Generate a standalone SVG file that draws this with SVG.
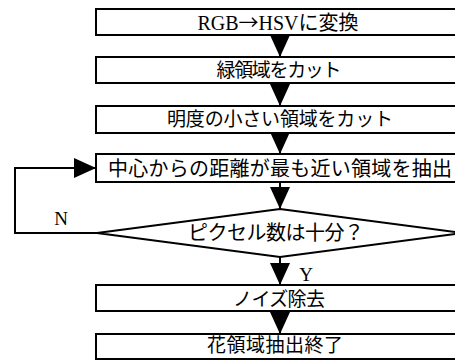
<svg xmlns="http://www.w3.org/2000/svg" width="455" height="361" viewBox="0 0 455 361">
<style>
.box{fill:#fff;stroke:#000;stroke-width:2}
.lbl{font-family:"Noto Sans CJK JP",sans-serif;font-size:19px;fill:#000;text-anchor:middle}
.ser{font-family:"Liberation Serif",serif}
.yn{font-family:"Liberation Serif",serif;font-size:19px;fill:#000;text-anchor:middle}
.con{fill:none;stroke:#000;stroke-width:2}
</style>
<defs>
<marker id="ah" markerUnits="userSpaceOnUse" viewBox="0 0 22 20" markerWidth="22" markerHeight="20" refX="22" refY="10" orient="auto">
<path d="M0,0 L22,10 L0,20 z" fill="#000"/>
</marker>
</defs>
<g id="connectors">
<line class="con" x1="280" y1="35" x2="280" y2="57" marker-end="url(#ah)"/>
<line class="con" x1="280" y1="83" x2="280" y2="106" marker-end="url(#ah)"/>
<line class="con" x1="280" y1="133" x2="280" y2="154" marker-end="url(#ah)"/>
<line class="con" x1="280" y1="182" x2="280" y2="209" marker-end="url(#ah)"/>
<line class="con" x1="280" y1="257" x2="280" y2="285" marker-end="url(#ah)"/>
<line class="con" x1="280" y1="311" x2="280" y2="334" marker-end="url(#ah)"/>
<polyline class="con" points="97,233 15,233 15,168 96,168" marker-end="url(#ah)"/>
<text class="yn" x="306" y="281">Y</text>
<text class="yn" x="61" y="225">N</text>
</g>
<g id="n1"><rect class="box" x="96" y="9" width="368" height="26"/><text class="lbl" x="278" y="30" style="font-size:20px"><tspan class="ser">RGB</tspan>→<tspan class="ser">HSV</tspan>に変換</text></g>
<g id="n2"><rect class="box" x="96" y="57" width="368" height="26"/><text class="lbl" x="279" y="77" textLength="125">緑領域をカット</text></g>
<g id="n3"><rect class="box" x="96" y="106" width="368" height="27"/><text class="lbl" x="280" y="126" textLength="226">明度の小さい領域をカット</text></g>
<g id="n4"><rect class="box" x="96" y="154" width="368" height="28"/><text class="lbl" x="280" y="176" style="font-size:20px" textLength="344">中心からの距離が最も近い領域を抽出</text></g>
<g id="n5"><polygon class="box" points="280,209 463,233 280,257 97,233"/><text class="lbl" x="276" y="240" style="font-size:20px" textLength="176">ピクセル数は十分？</text></g>
<g id="n6"><rect class="box" x="96" y="285" width="368" height="26"/><text class="lbl" x="279" y="306" textLength="92">ノイズ除去</text></g>
<g id="n7"><rect class="box" x="96" y="334" width="368" height="25"/><text class="lbl" x="275" y="352" textLength="136">花領域抽出終了</text></g>
</svg>
